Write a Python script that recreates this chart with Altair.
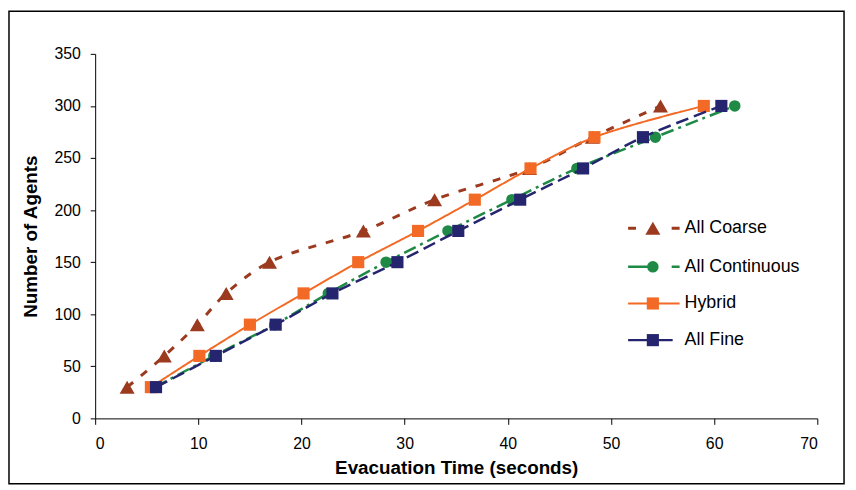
import altair as alt
import pandas as pd

agents = [30, 60, 90, 120, 150, 180, 210, 240, 270, 300]
coarse_t = [3.1, 6.7, 9.9, 12.7, 16.9, 26.0, 32.9, 42.1, 48.2, 54.8]
continuous_t = [5.8, 11.5, 17.4, 22.6, 28.2, 34.2, 40.4, 46.7, 54.3, 62.0]
hybrid_t = [5.4, 10.1, 15.0, 20.2, 25.5, 31.3, 36.8, 42.2, 48.4, 59.0]
fine_t = [5.9, 11.7, 17.5, 23.0, 29.3, 35.2, 41.2, 47.3, 53.1, 60.7]

series = ["All Coarse", "All Continuous", "Hybrid", "All Fine"]
times = [coarse_t, continuous_t, hybrid_t, fine_t]
colors = ["#9B3A1E", "#1E8A45", "#F26A25", "#25256F"]
shapes = ["triangle-up", "circle", "square", "square"]
sizes = [230, 135, 150, 150]
dashes = [[8, 10], [13, 5, 3, 5], [1, 0], [13, 6]]
widths = [3, 2.5, 2, 2.5]
legend_dashes = [[8, 36], [20, 24, 8, 20], [1, 0], [1, 0]]
legend_x2 = [590, 590, 590, 583]
legend_y = [176, 215, 252, 289]

rows = []
for s, t in zip(series, times):
    for ti, a in zip(t, agents):
        rows.append({"series": s, "time": ti, "agents": a})
df = pd.DataFrame(rows)

W, H = 729, 368
font = "Liberation Sans"

xenc = alt.X("time:Q", title="Evacuation Time (seconds)",
             scale=alt.Scale(domain=[0, 70], nice=False),
             axis=alt.Axis(values=list(range(0, 71, 10)), grid=False,
                           domainColor="black", tickColor="black", tickSize=6,
                           labelFontSize=16, labelColor="black", labelPadding=11,
                           titleFontSize=19, titleFontWeight="bold", titleColor="black",
                           titlePadding=8, labelFont=font, titleFont=font))
yenc = alt.Y("agents:Q", title="Number of Agents",
             scale=alt.Scale(domain=[0, 350], nice=False),
             axis=alt.Axis(values=list(range(0, 351, 50)), grid=False,
                           domainColor="black", tickColor="black", tickSize=5,
                           labelFontSize=16, labelColor="black", labelPadding=10,
                           titleFontSize=19, titleFontWeight="bold", titleColor="black",
                           titlePadding=14, labelFont=font, titleFont=font))

layers = []
frame = alt.Chart(pd.DataFrame({"a": [0]})).mark_rect(
    fill=None, stroke="black", strokeWidth=1.5
).encode(x=alt.value(-87), x2=alt.value(W + 27), y=alt.value(-43), y2=alt.value(H + 66))
layers.append(frame)

for i, s in enumerate(series):
    base = alt.Chart(df).transform_filter(alt.datum.series == s)
    line = base.mark_line(color=colors[i], strokeDash=dashes[i], strokeWidth=widths[i],
                          interpolate="catmull-rom").encode(x=xenc, y=yenc, order="agents:Q")
    pts = base.mark_point(filled=True, opacity=1, color=colors[i], shape=shapes[i],
                          size=sizes[i]).encode(x=xenc, y=yenc)
    layers += [line, pts]

    ld = pd.DataFrame({"series": [s]})
    lg = alt.Chart(ld)
    layers.append(lg.mark_rule(color=colors[i], strokeDash=legend_dashes[i],
                               strokeWidth=widths[i]).encode(
        x=alt.value(538), x2=alt.value(legend_x2[i]), y=alt.value(legend_y[i])))
    layers.append(lg.mark_point(filled=True, opacity=1, color=colors[i], shape=shapes[i],
                                size=sizes[i]).encode(x=alt.value(563), y=alt.value(legend_y[i])))
    layers.append(lg.mark_text(align="left", baseline="middle", fontSize=18, font=font,
                               color="black").encode(
        x=alt.value(595), y=alt.value(legend_y[i]), text="series:N"))

chart = alt.layer(*layers).properties(
    width=W, height=H,
    autosize=alt.AutoSizeParams(type="none"),
    padding={"left": 88, "top": 44, "right": 31, "bottom": 70},
    background="white",
).configure_view(stroke=None)

chart.save("out.html", embed_options={"renderer": "svg", "actions": False})
